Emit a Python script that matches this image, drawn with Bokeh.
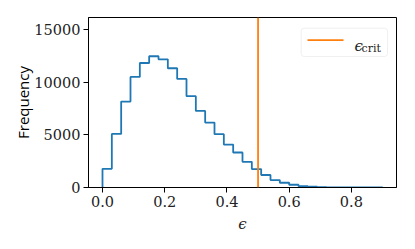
import numpy as np
from bokeh.plotting import figure
from bokeh.models import Range1d, FixedTicker, PrintfTickFormatter, Span, BoxAnnotation, Label
from bokeh.embed import file_html
from bokeh.resources import INLINE

# ---- data ----
bin_start = 0.0
bin_width = 0.03
counts = [1780, 5100, 8180, 10520, 11850, 12490, 12200, 11350, 10330, 8690,
          7290, 6180, 5075, 4090, 3330, 2440, 1750, 1190, 710, 450,
          260, 130, 70, 40, 20, 10, 5, 3, 1, 1]
eps_crit = 0.5
x_ticks = [0.0, 0.2, 0.4, 0.6, 0.8]
y_ticks = [0, 5000, 10000, 15000]
legend_label_main = "\u03f5"
legend_label_sub = "crit"
x_label = "\u03f5"
y_label = "Frequency"

# ---- step outline (matplotlib histtype='step') ----
edges = bin_start + bin_width * np.arange(len(counts) + 1)
xs = [edges[0]]
ys = [0]
for i, c in enumerate(counts):
    xs += [edges[i], edges[i + 1]]
    ys += [c, c]
xs.append(edges[-1])
ys.append(0)

BLUE = "#1f77b4"
ORANGE = "#ff7f0e"
SERIF = "DejaVu Serif"

p = figure(width=413, height=247, output_backend="svg", toolbar_location=None,
           x_range=Range1d(-0.045, 0.945), y_range=Range1d(0, 16180),
           min_border_left=88, min_border_right=17, min_border_top=17, min_border_bottom=60)

p.line(xs, ys, line_color=BLUE, line_width=1.8)
p.add_layout(Span(location=eps_crit, dimension="height", line_color=ORANGE, line_width=1.8))

p.grid.visible = False
p.outline_line_color = "black"
p.outline_line_width = 1
p.background_fill_color = "white"
p.border_fill_color = "white"

p.xaxis.ticker = FixedTicker(ticks=x_ticks)
p.yaxis.ticker = FixedTicker(ticks=y_ticks)
p.xaxis.formatter = PrintfTickFormatter(format="%.1f")
p.yaxis.formatter = PrintfTickFormatter(format="%d")
for ax in (p.xaxis, p.yaxis):
    ax.axis_line_color = "black"
    ax.major_tick_line_color = "black"
    ax.major_tick_in = 0
    ax.major_tick_out = 5
    ax.minor_tick_line_color = None
    ax.major_label_text_font = SERIF
    ax.major_label_text_font_size = "14.5px"
    ax.major_label_text_color = "#222222"
    ax.major_label_standoff = 3
p.xaxis.axis_label = x_label
p.xaxis.axis_label_text_font = SERIF
p.xaxis.axis_label_text_font_style = "italic"
p.xaxis.axis_label_text_font_size = "15px"
p.xaxis.axis_label_text_color = "#222222"
p.xaxis.axis_label_standoff = 5
p.yaxis.axis_label = y_label
p.yaxis.axis_label_text_font = "Open Sans"
p.yaxis.axis_label_text_font_style = "normal"
p.yaxis.axis_label_text_font_size = "15px"
p.yaxis.axis_label_text_color = "black"
p.yaxis.axis_label_standoff = -2

# ---- legend (manual, to allow the subscript) ----
p.add_layout(BoxAnnotation(left=212.7, right=299, bottom=131, top=159.3,
                           left_units="screen", right_units="screen",
                           bottom_units="screen", top_units="screen",
                           fill_color="white", fill_alpha=0.8,
                           line_color="#cccccc", line_width=1, border_radius=3))
p.add_layout(BoxAnnotation(left=219, right=255, bottom=146.5, top=148.3,
                           left_units="screen", right_units="screen",
                           bottom_units="screen", top_units="screen",
                           fill_color=ORANGE, fill_alpha=1, line_color=None))
p.add_layout(Label(x=266, y=142, x_units="screen", y_units="screen", text=legend_label_main,
                   text_font=SERIF, text_font_style="italic", text_font_size="15px",
                   text_color="#222222", text_baseline="alphabetic"))
p.add_layout(Label(x=273, y=139, x_units="screen", y_units="screen", text=legend_label_sub,
                   text_font=SERIF, text_font_size="11px",
                   text_color="#222222", text_baseline="alphabetic"))

open("out.html", "w").write(file_html(p, INLINE))
